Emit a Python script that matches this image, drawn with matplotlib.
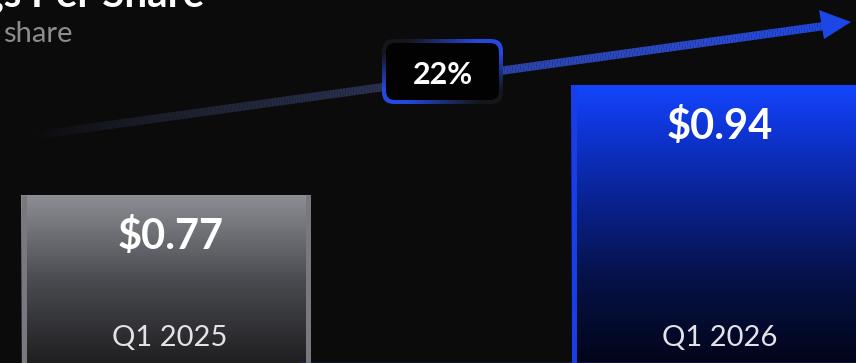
import numpy as np
import matplotlib.pyplot as plt
from matplotlib.patches import FancyBboxPatch, Polygon
from matplotlib.collections import LineCollection
from matplotlib.colors import LinearSegmentedColormap, to_rgb

plt.rcParams["font.family"] = ["Lato", "DejaVu Sans"]

# ── data ────────────────────────────────────────────
quarters = ["Q1 2025", "Q1 2026"]
eps = [0.77, 0.94]
value_labels = ["$0.77", "$0.94"]
growth_label = "22%"
title = "Earnings Per Share"
subtitle = "share"

BG = "#0b0b0b"
W, H = 856, 363

fig = plt.figure(figsize=(W / 100, H / 100), dpi=100)
fig.patch.set_facecolor(BG)

# main axes: bars (data units, zoomed into the top of the bars)
ax = fig.add_axes([0, 0, 1, 1])
ax.set_facecolor(BG)
xlim = (-0.3018, 1.2545)
ylim = (0.510, 1.071)

bar_cmaps = [
    LinearSegmentedColormap.from_list("gray", [(0, "#1f1f21"), (0.5, "#4b4c51"), (1, "#8e8f94")]),
    LinearSegmentedColormap.from_list("blue", [(0, "#02051a"), (0.3, "#051247"),
                                               (0.6, "#0a2395"), (0.85, "#0f36d8"), (1, "#1446ff")]),
]
edge_colors = ["#78787e", "#1a3ee6"]
bar_w = 0.527
x = np.arange(len(eps))

bars = ax.bar(x, eps, width=bar_w, facecolor="none", edgecolor="none", zorder=3)
grad = np.linspace(0, 1, 256).reshape(-1, 1)
strip = 5 / 550  # side strip width in data units
for i, b in enumerate(bars):
    x0, x1 = b.get_x(), b.get_x() + b.get_width()
    im = ax.imshow(grad, cmap=bar_cmaps[i], origin="lower", aspect="auto",
                   extent=(x0, x1, ylim[0], eps[i]), zorder=2)
    im.set_clip_path(b)
    ax.vlines([x0 + strip / 2, x1 - strip / 2], ylim[0], eps[i],
              colors=edge_colors[i], linewidth=3.6, zorder=3)

for i in range(len(eps)):
    ax.annotate(value_labels[i], xy=(x[i], eps[i]), xytext=(3, -39),
                textcoords="offset points", ha="center", va="baseline",
                fontsize=30, fontweight="bold", color="white", zorder=5)
    ax.text(x[i] + 0.006, ylim[0] + (ylim[1] - ylim[0]) * 0.047, quarters[i],
            ha="center", va="baseline", fontsize=21, color="#e2e2e8", zorder=5)

ax.set_xlim(*xlim)
ax.set_ylim(*ylim)
ax.axis("off")

# overlay axes in pixel units for the growth arrow and badge
ov = fig.add_axes([0, 0, 1, 1])
ov.patch.set_alpha(0)
ov.axis("off")

# gradient arrow shaft
xs = np.linspace(30, 823, 300)
ys = 136 - 0.1385 * (xs - 30)
stops_x = [30, 120, 250, 380, 500, 700, 823]
stops_c = [BG, "#181a24", "#22273c", "#2a3152", "#2c44a8", "#2a4ace", "#1f48e0"]
rgb = np.array([to_rgb(c) for c in stops_c])
mid = (xs[:-1] + xs[1:]) / 2
cols = np.column_stack([np.interp(mid, stops_x, rgb[:, k]) for k in range(3)])
segs = np.stack([np.column_stack([xs[:-1], ys[:-1]]), np.column_stack([xs[1:], ys[1:]])], axis=1)
ov.add_collection(LineCollection(segs, colors=cols, linewidths=6.0, capstyle="butt", zorder=2))
ov.add_patch(Polygon([(819, 10), (851, 22), (824, 39)], closed=True,
                     facecolor="#1c46e6", edgecolor="none", zorder=3))

# badge with gradient border
bx, by, bw, bh = 382, 39, 121, 65
outer = FancyBboxPatch((bx, by), bw, bh, boxstyle="round,pad=0,rounding_size=12",
                       facecolor="none", edgecolor="none", zorder=4)
ov.add_patch(outer)
uu, vv = np.meshgrid(np.linspace(-1, 1, 120), np.linspace(1, -1, 64))
t = np.clip(0.5 + 0.9 * uu * vv, 0, 1)
border_cmap = LinearSegmentedColormap.from_list("border", ["#15161c", "#2449e0"])
bim = ov.imshow(t, cmap=border_cmap, vmin=0, vmax=1, aspect="auto", origin="upper",
                extent=(bx, bx + bw, by + bh, by), zorder=4)
bim.set_clip_path(outer)
ov.add_patch(FancyBboxPatch((bx + 4, by + 4), bw - 8, bh - 8,
                            boxstyle="round,pad=0,rounding_size=9",
                            facecolor="#020202", edgecolor="none", zorder=5))
ov.text(bx + bw / 2, 84, growth_label, ha="center", va="baseline",
        fontsize=22, fontweight="bold", color="white", zorder=6)

# title + subtitle (cropped at the top-left)
ov.text(204, 7, title, ha="right", va="baseline", fontsize=29,
        fontweight="bold", color="white", zorder=6)
ov.text(3, 42, subtitle, ha="left", va="baseline", fontsize=21,
        color="#8c8c8c", zorder=6)

# thin baseline at the bottom edge
ov.plot([300, W], [362.5, 362.5], color="#4a4fb0", lw=1.0, zorder=1)

ov.set_xlim(0, W)
ov.set_ylim(H, 0)

fig.savefig("out.png", dpi=100, facecolor=BG)
